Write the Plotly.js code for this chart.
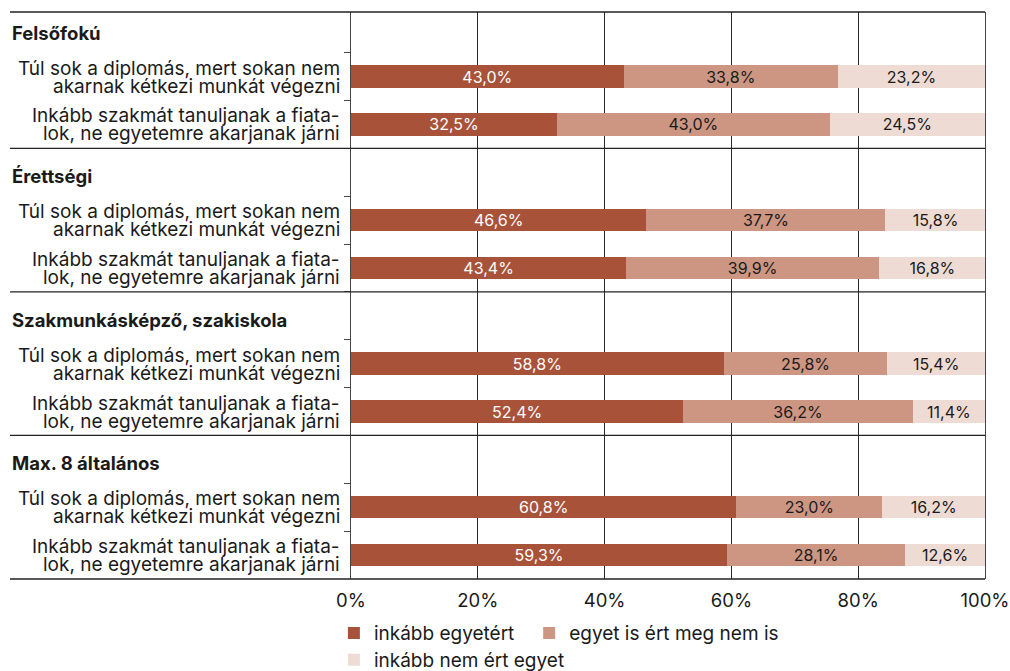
<!DOCTYPE html>
<html>
<head>
<meta charset="utf-8">
<script src="https://cdn.plot.ly/plotly-3.0.1.min.js"></script>
<style>html,body{margin:0;padding:0;background:#fff;}#chart{width:1010px;height:671px;}</style>
</head>
<body>
<div id="chart"></div>
<script>
const groups = ['Felsőfokú', 'Érettségi', 'Szakmunkásképző, szakiskola', 'Max. 8 általános'];
const statementLine1 = ['Túl sok a diplomás, mert sokan nem', 'Inkább szakmát tanuljanak a fiata-'];
const statementLine2 = ['akarnak kétkezi munkát végezni', 'lok, ne egyetemre akarjanak járni'];
const seriesNames = ['inkább egyetért', 'egyet is ért meg nem is', 'inkább nem ért egyet'];
// order: per group, statement 1 then statement 2
const agree    = [43.0, 32.5, 46.6, 43.4, 58.8, 52.4, 60.8, 59.3];
const neutral  = [33.8, 43.0, 37.7, 39.9, 25.8, 36.2, 23.0, 28.1];
const disagree = [23.2, 24.5, 15.8, 16.8, 15.4, 11.4, 16.2, 12.6];

const colors = ['#A9523A', '#CC9683', '#EEDBD4'];
const textColors = ['#ffffff', '#1a1a1a', '#1a1a1a'];
const FONT = 'Inter, Liberation Sans, Arial, sans-serif';
const legendIds = ['legend', 'legend2', 'legend3'];

const categories = [];
const barRows = [];
groups.forEach(g => {
  categories.push(g);
  statementLine1.forEach((s, i) => {
    const id = g + ' | ' + (i + 1);
    categories.push(id);
    barRows.push(id);
  });
});

const seriesValues = [agree, neutral, disagree];
const traces = seriesValues.map((vals, k) => ({
  type: 'bar',
  orientation: 'h',
  name: seriesNames[k],
  x: vals,
  y: barRows,
  marker: {color: colors[k], line: {width: 0}},
  texttemplate: '%{x:.1f}%',
  textposition: 'inside',
  insidetextanchor: 'middle',
  textangle: 0,
  constraintext: 'none',
  textfont: {family: FONT, size: 16, color: textColors[k]},
  hoverinfo: 'skip',
  legend: legendIds[k]
}));

const LEFT = 351, PW = 634, PH = 567;
const xLeftPaper = (10 - LEFT) / PW;

const shapes = [];
[0, 1].forEach(p => shapes.push({type: 'line', xref: 'paper', yref: 'paper', x0: xLeftPaper, x1: 1, y0: p, y1: p, line: {color: '#222', width: 1.3}}));
for (let g = 1; g < groups.length; g++) {
  shapes.push({type: 'line', xref: 'paper', yref: 'y', x0: xLeftPaper, x1: 1, y0: g * 3 - 0.5, y1: g * 3 - 0.5, line: {color: '#222', width: 1.3}});
}

const annotations = [];
groups.forEach(g => {
  annotations.push({xref: 'paper', yref: 'y', x: xLeftPaper, y: g, xanchor: 'left', yanchor: 'middle', yshift: -4,
    text: '<b>' + g + '</b>', showarrow: false, font: {family: FONT, size: 18.5, color: '#1a1a1a'}});
  statementLine1.forEach((s, i) => {
    const id = g + ' | ' + (i + 1);
    annotations.push({xref: 'paper', yref: 'y', x: 0, xshift: -9, y: id, yshift: 8.5, xanchor: 'right', yanchor: 'middle',
      text: statementLine1[i], showarrow: false, font: {family: FONT, size: 19, color: '#1a1a1a'}});
    annotations.push({xref: 'paper', yref: 'y', x: 0, xshift: -9, y: id, yshift: -9.5, xanchor: 'right', yanchor: 'middle',
      text: statementLine2[i], showarrow: false, font: {family: FONT, size: 19, color: '#1a1a1a'}});
  });
});

const legendBase = {orientation: 'h', xanchor: 'left', yanchor: 'top', bgcolor: 'rgba(0,0,0,0)', borderwidth: 0,
  font: {family: FONT, size: 19, color: '#1a1a1a'}};

const layout = {
  width: 1010, height: 671,
  margin: {l: LEFT, r: 25, t: 12, b: 92, pad: 0, autoexpand: false},
  paper_bgcolor: '#fff', plot_bgcolor: '#fff',
  separators: ', ',
  barmode: 'stack',
  bargap: 0.53,
  font: {family: FONT, size: 19, color: '#1a1a1a'},
  xaxis: {
    range: [0, 100], dtick: 20, tick0: 0, ticksuffix: '%',
    showgrid: true, gridcolor: '#2a2a2a', gridwidth: 1,
    zeroline: false, showline: false, ticks: '',
    ticklabelstandoff: 8,
    ticklabeloverflow: 'allow',
    tickfont: {family: FONT, size: 18.5, color: '#1a1a1a'},
    fixedrange: true
  },
  yaxis: {
    type: 'category',
    categoryorder: 'array', categoryarray: categories,
    range: [11.5, -0.35],
    showgrid: false, zeroline: false,
    showline: true, linecolor: '#444', linewidth: 1, mirror: true,
    ticks: 'outside', tickson: 'boundaries', ticklen: 6, tickcolor: '#444', tickwidth: 1,
    showticklabels: false,
    fixedrange: true
  },
  showlegend: true,
  legend: Object.assign({}, legendBase, {x: -0.027, y: -0.062}),
  legend2: Object.assign({}, legendBase, {x: 0.281, y: -0.062}),
  legend3: Object.assign({}, legendBase, {x: -0.027, y: -0.109}),
  shapes: shapes,
  annotations: annotations
};

Plotly.newPlot('chart', traces, layout, {displayModeBar: false, staticPlot: true});
</script>
</body>
</html>
